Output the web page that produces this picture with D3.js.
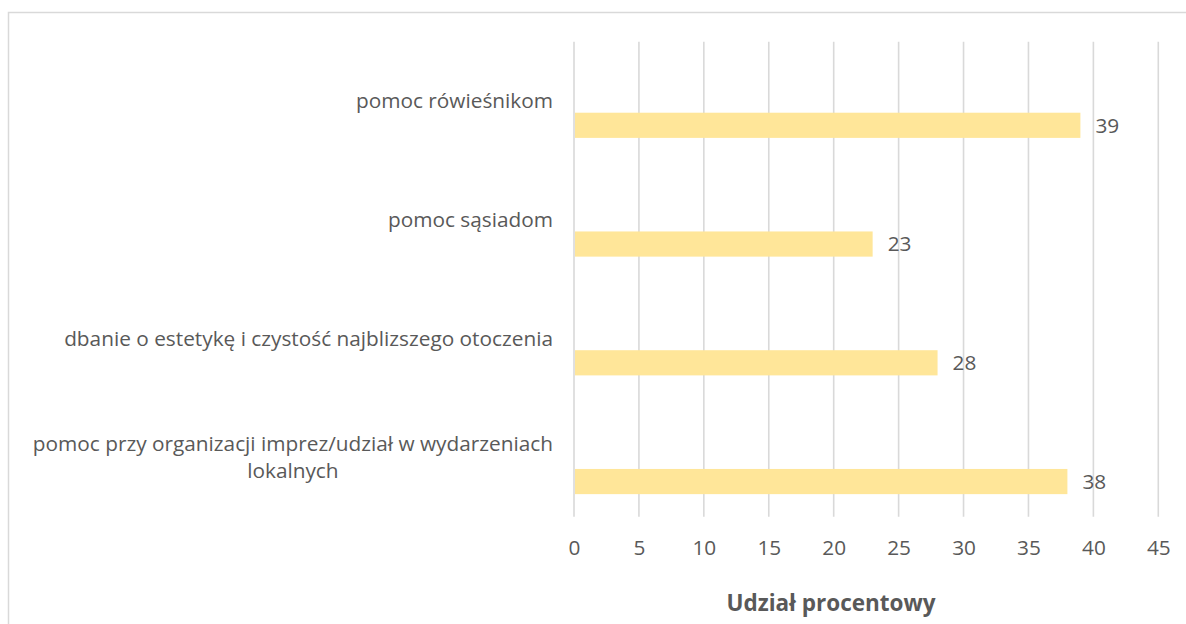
<!DOCTYPE html>
<html>
<head>
<meta charset="utf-8">
<script src="https://cdn.jsdelivr.net/npm/d3@7"></script>
<style>
  html, body { margin: 0; padding: 0; background: #fff; }
  svg { display: block; font-family: "Open Sans", "Lato", sans-serif; }
</style>
</head>
<body>
<svg id="chart" width="1186" height="624"></svg>
<script>
// Activity categories (top to bottom) and their percentage shares
const categories = [
  "pomoc rówieśnikom",
  "pomoc sąsiadom",
  "dbanie o estetykę i czystość najblizszego otoczenia",
  "pomoc przy organizacji imprez/udział w wydarzeniach lokalnych"
];
const values = [39, 23, 28, 38];
const xTicks = [0, 5, 10, 15, 20, 25, 30, 35, 40, 45];
const axisTitle = "Udział procentowy";

const W = 1186, H = 624;
const textColor = "#595959";
const gridColor = "#d9d9d9";
const barColor = "#ffe699";
const fontSize = 20.8;

const svg = d3.select("#chart");

// outer chart frame
svg.append("rect")
  .attr("x", 8.5).attr("y", 12.5)
  .attr("width", W + 20).attr("height", H + 20)
  .attr("fill", "#fff").attr("stroke", gridColor).attr("stroke-width", 1.5);

const plot = { left: 574, right: 1158.3, top: 41.7, bottom: 516.7 };

const x = d3.scaleLinear().domain([0, 45]).range([plot.left, plot.right]);
const y = d3.scaleBand().domain(categories).range([plot.top, plot.bottom]).padding(0);
const bw = y.bandwidth();

// vertical gridlines
svg.append("g")
  .selectAll("line")
  .data(xTicks)
  .join("line")
  .attr("x1", d => x(d)).attr("x2", d => x(d))
  .attr("y1", plot.top).attr("y2", plot.bottom)
  .attr("stroke", gridColor).attr("stroke-width", 1.6);

// x axis tick labels
const xAxis = d3.axisBottom(x).tickValues(xTicks).tickSize(0).tickPadding(0);
const gx = svg.append("g")
  .attr("transform", `translate(0, ${plot.bottom})`)
  .call(xAxis);
gx.select(".domain").remove();
gx.selectAll("text")
  .attr("y", 31)
  .attr("dy", "0.35em")
  .attr("fill", textColor)
  .style("font-size", fontSize + "px")
  .style("font-family", "'Open Sans', sans-serif");

// bars sit in the lower part of each category band
const barTop = d => y(d) + bw * 0.598;
const barH = bw * 0.212;

svg.append("g")
  .selectAll("rect")
  .data(categories)
  .join("rect")
  .attr("x", x(0) + 1)
  .attr("y", d => barTop(d))
  .attr("width", (d, i) => x(values[i]) - x(0) - 1)
  .attr("height", barH)
  .attr("fill", barColor);

// value labels
svg.append("g")
  .selectAll("text")
  .data(categories)
  .join("text")
  .attr("x", (d, i) => x(values[i]) + 15)
  .attr("y", d => barTop(d) + barH / 2)
  .attr("dy", "0.35em")
  .attr("fill", textColor)
  .style("font-size", fontSize + "px")
  .text((d, i) => values[i]);

// category labels, centred on each band; the long one wraps onto two lines
const labelRight = 553;
const wrapped = {
  "pomoc przy organizacji imprez/udział w wydarzeniach lokalnych":
    ["pomoc przy organizacji imprez/udział w wydarzeniach", "lokalnych"]
};
const lineH = 27;
const gl = svg.append("g");
categories.forEach(c => {
  const cy = y(c) + bw / 2;
  const lines = wrapped[c] || [c];
  if (lines.length === 1) {
    gl.append("text")
      .attr("x", labelRight).attr("y", cy)
      .attr("dy", "0.35em")
      .attr("text-anchor", "end")
      .attr("fill", textColor)
      .style("font-size", fontSize + "px")
      .text(c);
  } else {
    const t = gl.append("text")
      .attr("text-anchor", "middle")
      .attr("fill", textColor)
      .style("font-size", fontSize + "px");
    const first = t.append("tspan").text(lines[0]);
    const w = first.node().getComputedTextLength();
    const cx = labelRight - w / 2;
    const y0 = cy - (lines.length - 1) * lineH / 2;
    t.selectAll("tspan").remove();
    lines.forEach((ln, k) => {
      t.append("tspan")
        .attr("x", cx)
        .attr("y", y0 + k * lineH)
        .attr("dy", "0.35em")
        .text(ln);
    });
  }
});

// axis title
svg.append("text")
  .attr("x", 831).attr("y", 603)
  .attr("dy", "0.35em")
  .attr("text-anchor", "middle")
  .attr("fill", textColor)
  .style("font-size", "22.5px")
  .style("font-weight", "bold")
  .text(axisTitle);
</script>
</body>
</html>
